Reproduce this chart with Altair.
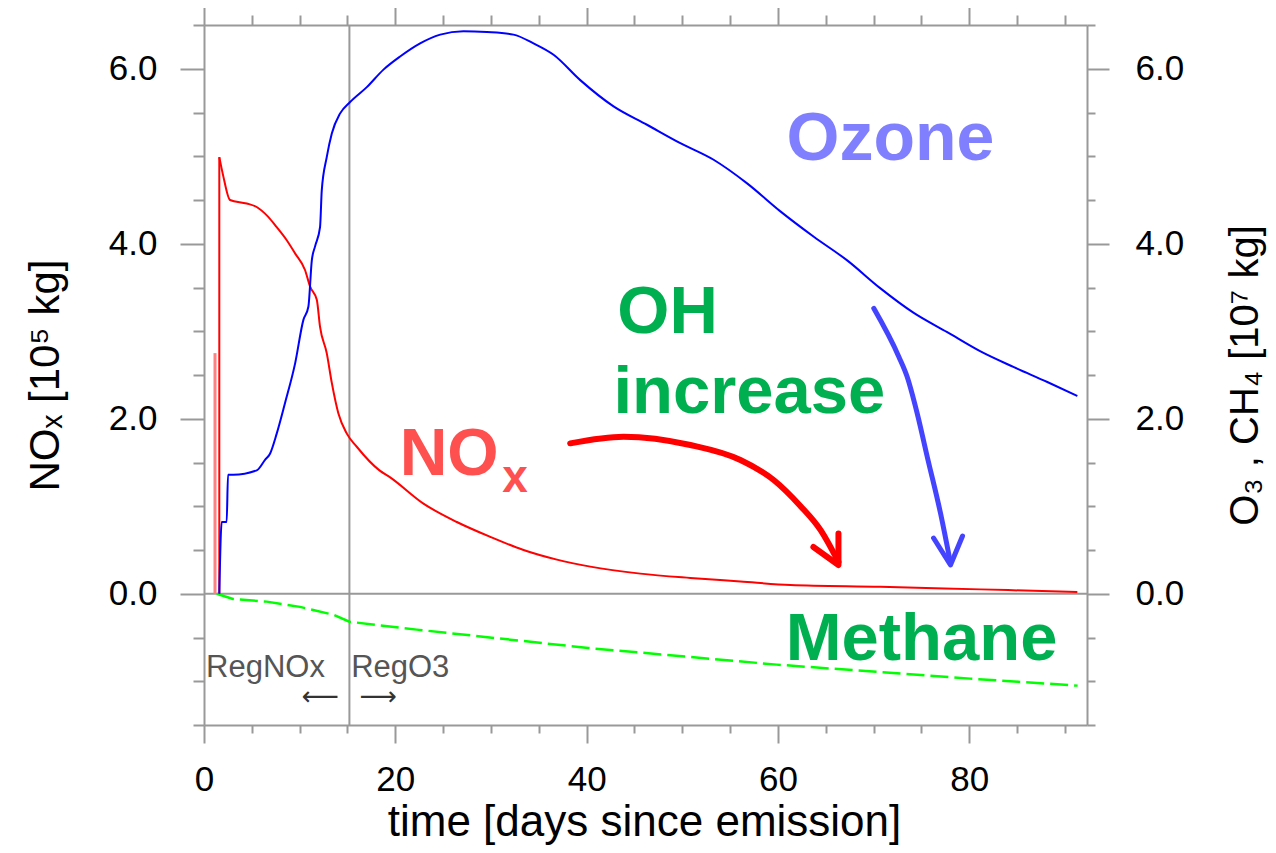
import altair as alt
import pandas as pd

# ---------------- data ----------------
# NOx (left axis, 10^5 kg): initial jump, then decay
nox_jump_day = [1.60, 1.60]
nox_jump_val = [0.00, 4.99]
nox_day = [1.60, 2.02, 2.72, 4.47, 5.51, 6.69, 7.60, 8.65, 9.52, 10.56, 11.09, 11.79, 12.13, 12.83,
           13.36, 14.05, 14.93, 15.97, 18.34, 19.46, 22.94, 26.43, 29.92, 33.40, 36.89, 40.38, 45.61, 50.84,
           56.07, 61.30, 70.71, 81.17, 91.29]
nox_val = [4.99, 4.77, 4.50, 4.46, 4.42, 4.31, 4.19, 4.04, 3.89, 3.70, 3.51, 3.36, 3.05, 2.75,
           2.41, 2.06, 1.83, 1.68, 1.41, 1.33, 1.03, 0.82, 0.65, 0.50, 0.39, 0.31, 0.23, 0.18,
           0.14, 0.10, 0.08, 0.05, 0.02]
# faint first NOx spike
nox2_day = [1.15, 1.15]
nox2_val = [0.00, 2.75]

# Ozone (right axis, 10^7 kg)
o3_day = [1.60, 1.85, 2.37, 2.51, 3.06, 5.51, 6.38, 6.90, 7.60, 8.47, 9.52, 10.39, 10.91, 11.27, 11.61,
          12.13, 12.31, 12.83, 13.36, 14.23, 15.27, 17.02, 18.76, 20.50, 22.59, 24.69, 27.12, 29.57, 32.35,
          34.44, 36.54, 39.33, 42.81, 46.31, 49.79, 53.27, 56.77, 60.25, 63.74, 67.23, 70.71, 74.19, 77.69,
          81.17, 84.66, 88.15, 91.29]
o3_val = [0.00, 0.82, 0.82, 1.36, 1.36, 1.41, 1.53, 1.60, 1.83, 2.18, 2.63, 3.13, 3.28, 3.81, 3.97,
          4.19, 4.61, 4.99, 5.26, 5.49, 5.62, 5.79, 5.99, 6.14, 6.29, 6.39, 6.43, 6.42, 6.39,
          6.29, 6.16, 5.87, 5.57, 5.36, 5.15, 4.96, 4.69, 4.37, 4.08, 3.81, 3.49, 3.21, 2.99,
          2.77, 2.59, 2.42, 2.26]

# Methane (right axis, 10^7 kg)
ch4_day = [1.33, 3.03, 6.56, 10.04, 13.53, 15.20, 22.25, 40.17, 59.87, 80.09, 91.32]
ch4_val = [0.00, -0.06, -0.09, -0.15, -0.24, -0.32, -0.41, -0.62, -0.81, -0.97, -1.05]

# regime boundary and zero line
boundary_day = [15.2]
zero_val = [0.0]

# axis ticks
x_ticks = [0, 5, 10, 15, 20, 25, 30, 35, 40, 45, 50, 55, 60, 65, 70, 75, 80, 85, 90]
y_ticks = [-1.5, -1.0, -0.5, 0.0, 0.5, 1.0, 1.5, 2.0, 2.5, 3.0, 3.5, 4.0, 4.5, 5.0, 5.5, 6.0, 6.5]

# annotation arrows (data coordinates)
red_arrow_day = [38.28, 43.86, 50.84, 56.07, 59.55, 62.34, 64.44, 66.32]
red_arrow_val = [1.719, 1.795, 1.700, 1.529, 1.300, 1.003, 0.729, 0.363]
red_head_day = [63.70, 66.32, 66.32]
red_head_val = [0.534, 0.329, 0.688]
blue_arrow_day = [70.01, 72.63, 73.50, 74.55, 75.60, 76.99, 78.03]
blue_arrow_val = [3.262, 2.709, 2.480, 2.062, 1.566, 0.919, 0.350]
blue_head_day = [76.26, 78.03, 79.29]
blue_head_val = [0.637, 0.329, 0.660]

# annotation texts
ozone_txt = ["Ozone"]; ozone_day = [71.76]; ozone_val = [4.957]
oh_txt = ["OH", "increase"]; oh_day = [43.2, 42.8]; oh_val = [2.98, 2.066]
meth_txt = ["Methane"]; meth_day = [60.8]; meth_val = [-0.757]
nox_lbl = ["NO"]; nox_lbl_day = [20.45]; nox_lbl_val = [1.357]
nox_sub = ["x"]; nox_sub_day = [31.17]; nox_sub_val = [1.16]
reg_txt = ["RegNOx", "RegO3"]; reg_day = [0.21, 15.38]; reg_val = [-0.951, -0.951]
regarr_txt = ["⟵", "⟶"]; regarr_day = [12.13, 18.2]; regarr_val = [-1.18, -1.18]

# ---------------- chart ----------------
GRAY = "#999999"
FONT = "Liberation Sans"
xs = alt.Scale(domain=[0, 92.3], nice=False, zero=False)
ys = alt.Scale(domain=[-1.5, 6.5], nice=False, zero=False)

common = dict(tickColor=GRAY, tickWidth=2, domainColor=GRAY, domainWidth=2, grid=False,
              labelFont=FONT, labelFontSize=35, labelColor="black", labelOverlap=False,
              labelFlush=False, titleFont=FONT, titleColor="black", titleFontWeight="normal")

xb_axis = alt.Axis(orient="bottom", values=x_ticks, format="d",
                   labelExpr="datum.value % 20 === 0 ? datum.label : ''",
                   tickSize={"condition": {"test": "datum.value % 20 === 0", "value": 18}, "value": 8},
                   labelPadding=19, title="time [days since emission]", titleFontSize=44,
                   titleX=440, titleY=110, titleAlign="center", titleBaseline="alphabetic", **common)
xt_axis = alt.Axis(orient="top", values=x_ticks, labels=False,
                   tickSize={"condition": {"test": "datum.value % 20 === 0", "value": 19}, "value": 10},
                   title="", **common)
yl_axis = alt.Axis(orient="left", values=y_ticks,
                   labelExpr="datum.value % 2 === 0 ? format(datum.value, '.1f') : ''",
                   tickSize={"condition": {"test": "datum.value % 2 === 0", "value": 24}, "value": 11},
                   labelPadding=23, title="NOₓ [10⁵ kg]", titleFontSize=42, titleAngle=270,
                   titleX=-159, titleY=350, titleAlign="center", titleBaseline="middle", **common)
yr_axis = alt.Axis(orient="right", values=y_ticks,
                   labelExpr="datum.value % 2 === 0 ? format(datum.value, '.1f') : ''",
                   tickSize={"condition": {"test": "datum.value % 2 === 0", "value": 22}, "value": 8},
                   labelPadding=26, title="O₃ , CH₄ [10⁷ kg]", titleFontSize=40, titleAngle=270,
                   titleX=158, titleY=350, titleAlign="center", titleBaseline="middle", **common)


def XL(axis=xb_axis, scale=xs):
    return alt.X("day:Q", scale=scale, axis=axis)


def YL(axis=yl_axis, scale=ys):
    return alt.Y("val:Q", scale=scale, axis=axis)


def df(days, vals):
    d = pd.DataFrame({"day": days, "val": vals})
    d["i"] = range(len(d))
    return d


zero_rule = alt.Chart(pd.DataFrame({"val": zero_val})).mark_rule(color=GRAY, strokeWidth=2).encode(y=YL())
vline = alt.Chart(pd.DataFrame({"day": boundary_day})).mark_rule(color=GRAY, strokeWidth=2).encode(x=XL())

nox2 = alt.Chart(df(nox2_day, nox2_val)).mark_line(color="#ff8080", strokeWidth=3).encode(
    x=XL(), y=YL(), order="i:Q")
nox_jump = alt.Chart(df(nox_jump_day, nox_jump_val)).mark_line(color="#ff0000", strokeWidth=2).encode(
    x=XL(), y=YL(), order="i:Q")
nox = alt.Chart(df(nox_day, nox_val)).mark_line(color="#ff0000", strokeWidth=2, interpolate="monotone").encode(
    x=XL(), y=YL(), order="i:Q")


def txt(texts, days, vals, **kw):
    d = pd.DataFrame({"day": days, "val": vals, "t": texts})
    return alt.Chart(d).mark_text(**kw).encode(x=XL(), y=YL(), text="t:N")


reg = txt(reg_txt, reg_day, reg_val, align="left", baseline="alphabetic", font=FONT, fontSize=31, color="#555555")
regarr = txt(regarr_txt, regarr_day, regarr_val, align="center", baseline="middle", font="DejaVu Sans",
             fontSize=26, color="#333333")

ann_kw = dict(font=FONT, fontWeight="bold", baseline="alphabetic")
ozone = txt(ozone_txt, ozone_day, ozone_val, align="center", fontSize=68, color="#8080ff", **ann_kw)
oh = txt(oh_txt, oh_day, oh_val, align="left", fontSize=67, color="#00b050", **ann_kw)
meth = txt(meth_txt, meth_day, meth_val, align="left", fontSize=67, color="#00b050", **ann_kw)
noxl = txt(nox_lbl, nox_lbl_day, nox_lbl_val, align="left", fontSize=66, color="#ff5050", **ann_kw)
noxs = txt(nox_sub, nox_sub_day, nox_sub_val, align="left", fontSize=46, color="#ff5050", **ann_kw)

red_shaft = alt.Chart(df(red_arrow_day, red_arrow_val)).mark_line(
    color="#ff0000", strokeWidth=6, interpolate="monotone", strokeCap="round").encode(x=XL(), y=YL(), order="i:Q")
red_head = alt.Chart(df(red_head_day, red_head_val)).mark_line(
    color="#ff0000", strokeWidth=6, strokeCap="round", strokeJoin="round").encode(x=XL(), y=YL(), order="i:Q")
blue_shaft = alt.Chart(df(blue_arrow_day, blue_arrow_val)).mark_line(
    color="#4444ff", strokeWidth=5, interpolate="monotone", strokeCap="round").encode(x=XL(), y=YL(), order="i:Q")
blue_head = alt.Chart(df(blue_head_day, blue_head_val)).mark_line(
    color="#4444ff", strokeWidth=5, strokeCap="round", strokeJoin="round").encode(x=XL(), y=YL(), order="i:Q")

left = alt.layer(zero_rule, vline, nox2, nox_jump, nox, reg, regarr, ozone, oh, meth, noxl, noxs,
                 red_shaft, red_head, blue_shaft, blue_head)

ch4 = alt.Chart(df(ch4_day, ch4_val)).mark_line(color="#00ff00", strokeWidth=2.5, strokeDash=[18, 6]).encode(
    x=XL(xt_axis), y=YL(yr_axis), order="i:Q")
o3 = alt.Chart(df(o3_day, o3_val)).mark_line(color="#0000ff", strokeWidth=2, interpolate="monotone").encode(
    x=XL(xt_axis), y=YL(yr_axis), order="i:Q")
right = alt.layer(ch4, o3)

chart = alt.layer(left, right).resolve_scale(x="independent", y="independent").properties(
    width=883, height=700,
    autosize=alt.AutoSizeParams(type="none"),
    padding={"left": 196, "top": 17, "right": 181, "bottom": 120},
    background="white",
).configure_view(stroke="transparent")

chart.save("out.html", embed_options={"renderer": "svg", "actions": False})
